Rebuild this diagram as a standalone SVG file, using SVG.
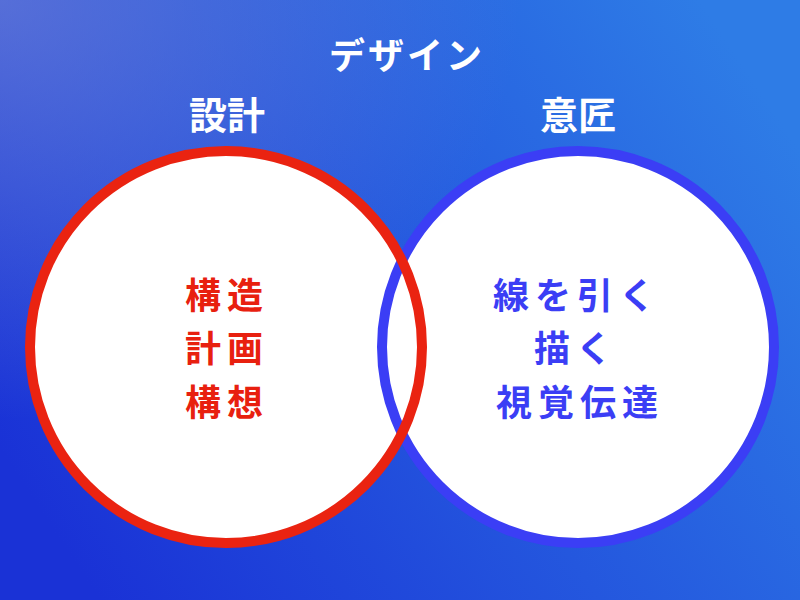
<svg xmlns="http://www.w3.org/2000/svg" width="800" height="600" viewBox="0 0 800 600">
  <defs>
    <linearGradient id="bg" x1="0" y1="0.75" x2="1" y2="0.25">
      <stop offset="0" stop-color="#1a32d6"/>
      <stop offset="1" stop-color="#2e7ce6"/>
    </linearGradient>
    <radialGradient id="glow" cx="0" cy="0" r="1" gradientUnits="userSpaceOnUse" gradientTransform="translate(0 0) scale(520 420)">
      <stop offset="0" stop-color="#7a88d6" stop-opacity="0.6"/>
      <stop offset="1" stop-color="#7a88d6" stop-opacity="0"/>
    </radialGradient>
    <style>
      text { font-family: "Noto Sans CJK JP", "Noto Sans CJK SC", sans-serif; font-weight: bold; text-anchor: middle; dominant-baseline: central; }
      .title { font-size: 36px; fill: #ffffff; letter-spacing: 3px; }
      .head { font-size: 38px; fill: #ffffff; }
      .fill { fill: #ffffff; }
      .ring { fill: none; stroke-width: 10; }
      .red { stroke: #ea2311; }
      .blue { stroke: #3b3ef5; }
      .tred { font-size: 36px; fill: #e8200f; letter-spacing: 6px; }
      .tblue { font-size: 36px; fill: #3b3ef5; letter-spacing: 6px; }
    </style>
  </defs>
  <rect width="800" height="600" fill="url(#bg)"/>
  <rect width="800" height="600" fill="url(#glow)"/>

  <g id="title">
    <text class="title" x="407" y="53">デザイン</text>
  </g>

  <g id="fills">
    <circle class="fill" cx="226" cy="347" r="196"/>
    <circle class="fill" cx="578" cy="347" r="196"/>
  </g>

  <g id="node-ishou">
    <text class="head" x="578" y="112">意匠</text>
    <circle class="ring blue" cx="578" cy="347" r="196"/>
    <text class="tblue" x="577" y="293">線を引く</text>
    <text class="tblue" x="576" y="346">描く</text>
    <text class="tblue" x="580" y="400">視覚伝達</text>
  </g>

  <g id="node-sekkei">
    <text class="head" x="227" y="112">設計</text>
    <circle class="ring red" cx="226" cy="347" r="196"/>
    <text class="tred" x="227" y="293">構造</text>
    <text class="tred" x="227" y="346">計画</text>
    <text class="tred" x="227" y="400">構想</text>
  </g>

  <g id="connectors"></g>
</svg>
